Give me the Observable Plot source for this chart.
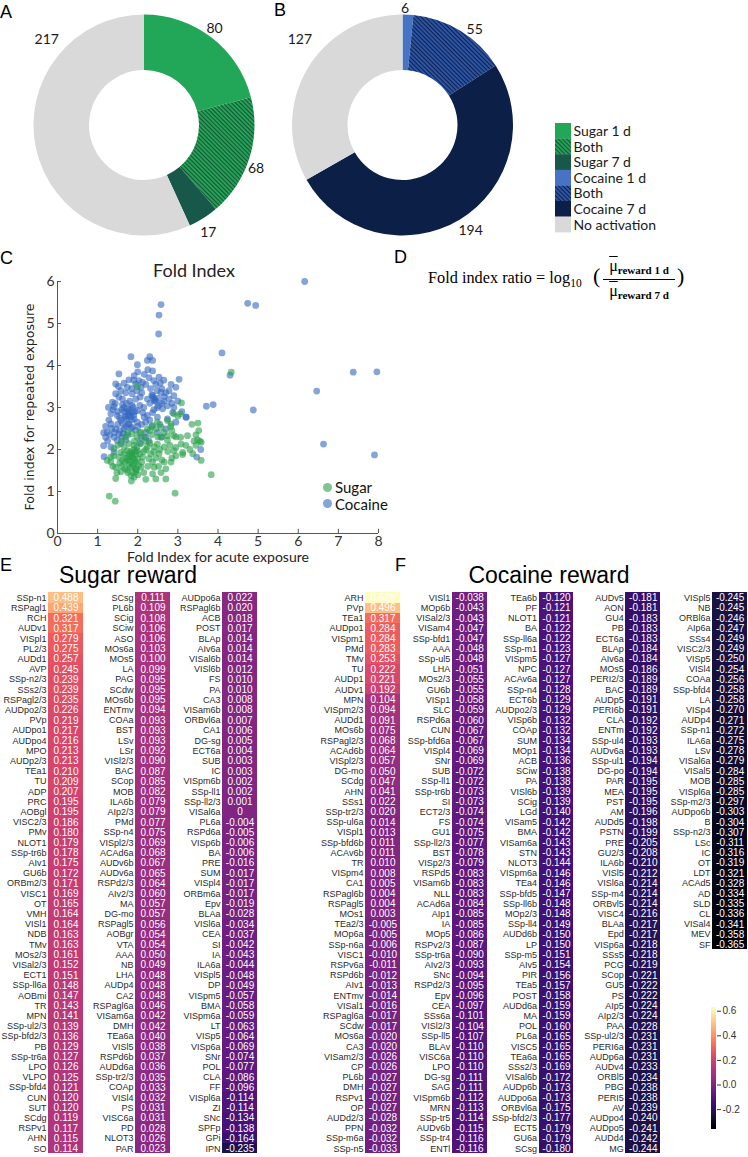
<!DOCTYPE html>
<html><head><meta charset="utf-8">
<script src="https://cdn.jsdelivr.net/npm/d3@7"></script>
<script src="https://cdn.jsdelivr.net/npm/@observablehq/plot@0.6"></script>
<style>
body{margin:0;background:#fff;}
#root{position:relative;width:748px;height:1157px;overflow:hidden;background:#fff;font-family:"Liberation Sans",Arial,sans-serif;}
.pl{position:absolute;font:18px/1 "Liberation Sans",Arial,sans-serif;color:#000;}
.ser{font-family:"Liberation Serif",serif;line-height:1;white-space:nowrap;position:absolute;}
.mu{text-decoration:overline;}
</style></head><body><div id="root"></div>
<script>
// ---------- DATA ----------
const sugarDonutCats = ["Sugar 1 d", "Both", "Sugar 7 d", "No activation"];
const sugarDonutVals = [80, 68, 17, 217];
const cocaineDonutCats = ["Cocaine 1 d", "Both", "Cocaine 7 d", "No activation"];
const cocaineDonutVals = [6, 55, 194, 127];
const legendLabels = ["Sugar 1 d", "Both", "Sugar 7 d", "Cocaine 1 d", "Both", "Cocaine 7 d", "No activation"];

const xTicks = [0, 1, 2, 3, 4, 5, 6, 7, 8];
const yTicks = [0, 1, 2, 3, 4, 5, 6];
const colorbarTicks = [-0.2, 0, 0.2, 0.4, 0.6];

const cocainePoints = [
[6.16,6.0],[4.74,5.48],[4.94,5.43],[2.58,5.45],[2.53,5.2],[2.52,4.75],[4.1,4.3],[4.3,3.77],[7.37,3.84],[7.96,3.85],[6.46,3.39],[4.88,2.94],[6.63,2.13],[7.9,1.87],[3.71,3.03],[3.88,3.07],[3.21,2.77],[1.83,4.21],[1.99,4.02],[2.3,4.21],[2.37,4.12],[2.24,4.12],[3.03,3.67],[3.57,2.0],[3.47,1.82],[1.15,2.09],[1.16,1.83],
[1.78,3.66],[1.91,3.76],[2.16,3.79],[2.28,3.71],[2.4,3.64],[2.56,3.58],[2.83,3.55],[2.95,3.48],[2.58,3.36],[2.66,3.26],[2.78,3.2],[2.9,3.28],[2.37,3.28],[2.24,3.2],[2.41,3.16],[2.08,3.48],[1.95,3.56],[1.74,3.48],[1.86,3.33],[2.06,3.25],[1.45,3.33],[1.53,3.25],[1.37,3.13],[1.62,3.07],[1.41,3.02],[1.74,2.97],[1.86,3.05],[1.99,2.93],[1.66,2.9],[1.78,2.81],[1.86,2.88],[1.7,2.77],[1.91,2.73],[1.58,2.69],[1.49,2.81],[1.33,2.85],[1.33,2.61],[1.45,2.49],[1.24,2.41],[1.2,2.29],[1.41,2.29],[1.53,2.37],[1.66,2.49],[1.78,2.61],[1.86,2.53],[1.99,2.65],[2.16,2.77],[2.12,2.88],[2.24,2.81],[2.37,2.88],[2.49,3.0],[2.62,2.97],[2.74,3.04],[2.87,2.88],[2.49,2.77],[2.74,2.73],[2.9,3.0],[3.2,2.77],[1.33,2.06],[1.41,1.94],[1.58,2.14],[1.7,2.22],[1.49,2.22],[2.2,2.29],[2.49,2.41],[2.7,2.49],[2.2,2.41],[2.08,2.29],[1.95,2.45],
[1.45,3.56],[1.58,3.4],[2.53,3.72],[2.37,3.87],[2.03,3.64],[1.53,3.8],
[1.78,2.85],[1.82,2.78],[1.75,2.9],[1.85,2.7],[1.8,2.95],[1.72,2.72],[1.9,2.82],[1.68,2.8],[2.42,3.2],[2.38,3.24],[2.45,3.15],[2.35,3.3],[2.5,3.22],[2.3,3.1],
[1.62,3.2],[1.7,3.35],[2.15,3.0],[2.6,3.1],[1.95,3.2],[2.1,3.35],[1.3,2.35],[1.5,2.6],[1.6,2.95],[2.05,3.05],
[1.65,3.0],[1.72,3.1],[1.8,3.15],[1.88,3.0],[1.93,2.9],[1.76,2.6],[1.83,2.5],[1.7,2.55],[1.62,2.62],[1.55,2.75],[1.5,2.9],[1.44,3.1],[1.38,2.95],[1.28,2.7],[1.35,2.5],[1.25,2.2],[1.42,2.4],[1.56,2.45],[1.64,2.38],[2.0,2.55],[2.1,2.6],[2.2,2.65],[2.3,2.7],[2.4,2.95],[2.52,3.05],[2.65,3.15],[2.7,3.35],[2.48,3.4],[2.32,3.45],[2.2,3.55],[2.12,3.6],[1.98,3.4],[1.85,3.45],[1.9,3.65],[2.6,3.45],[2.78,3.4],[2.85,3.1],[3.0,3.15],[3.1,2.9],[2.95,2.65],[2.55,2.6],[2.35,2.55],[1.2,2.55],[1.15,2.4],[1.27,3.0],[1.52,3.5],[1.66,3.58],[2.45,3.55],[2.65,3.65],[2.0,3.85],[2.25,3.9],[1.6,2.3],[1.75,2.35],[2.05,2.15],[2.28,2.2],[2.6,2.3]
];
const sugarPoints = [
[4.33,3.84],[1.99,3.5],[3.09,3.11],[3.06,2.85],[3.5,2.63],[2.74,2.69],[2.83,2.61],[2.58,2.53],[2.45,2.49],[2.9,2.33],[3.07,2.29],[3.24,2.33],[3.45,2.35],[3.49,2.23],[3.58,2.17],[3.08,2.13],[2.74,2.22],[2.58,2.29],[2.49,2.13],[2.66,2.06],[2.9,1.97],[3.12,1.93],[3.12,1.88],[3.37,1.9],[3.58,1.74],[2.83,1.7],[2.66,1.7],[2.37,1.7],[2.41,1.58],[2.7,1.54],[2.37,1.42],[2.7,1.3],[2.2,1.29],[1.91,1.34],[1.84,1.25],[1.45,1.31],[3.83,1.4],[2.93,0.96],[1.29,0.89],[1.44,0.77],[1.33,1.7],[1.45,1.58],[1.58,1.47],[1.73,1.51],[1.83,1.38],[1.95,1.47],[2.08,1.58],[1.53,1.82],[1.66,1.9],[1.78,1.82],[1.86,1.9],[1.99,1.97],[1.91,2.1],[1.78,2.14],[2.08,2.14],[2.16,2.29],[2.24,2.06],[2.32,1.9],[2.12,1.82],[1.95,1.7],[1.78,1.66],[1.68,1.7],[1.62,1.74],[1.82,1.58],[1.95,1.54],[1.74,1.97],[1.66,2.06],[1.99,2.29],[1.86,2.37],[1.74,2.41],[2.08,2.41],[2.24,2.49],[2.37,2.57],[2.49,2.65],[2.9,2.85],[2.74,2.33],[2.41,2.06],[2.53,1.9],[2.95,1.85],[1.41,2.02],[1.33,1.82],[1.24,1.74],[1.58,1.93],
[1.88,1.8],[1.92,1.75],[1.85,1.85],[1.95,1.88],[1.9,1.65],[1.82,1.72],[2.0,1.78],[1.87,1.6],[1.93,1.95],[1.8,1.9],[2.02,1.62],[1.97,1.52],
[3.35,2.6],[3.0,2.8],[3.55,2.2],[2.85,2.45],
[1.7,1.8],[1.75,1.75],[1.82,1.95],[1.9,2.0],[1.98,2.05],[2.05,1.9],[2.1,1.7],[2.15,1.95],[2.2,2.0],[2.28,1.78],[2.3,2.15],[2.4,1.95],[2.45,1.8],[2.55,2.0],[2.6,1.75],[2.65,2.4],[2.5,2.3],[2.35,2.35],[2.2,2.2],[1.6,1.6],[1.55,1.68],[1.68,1.55],[1.75,1.45],[1.88,1.45],[2.0,1.4],[2.15,1.45],[2.25,1.6],[1.5,2.1],[1.6,2.2],[1.7,2.3],[1.92,2.2],[2.05,2.4],[2.3,2.45],[2.8,2.1],[2.95,2.05],[3.2,2.1],[3.3,2.0],[3.4,2.2],[3.45,2.1],[3.52,2.45],[2.85,1.8],[2.75,1.95],[1.4,1.85],[1.38,1.6],[1.48,1.45],[2.52,1.6],[2.58,1.45],[2.45,1.3],[2.82,2.55],[2.95,2.3]
];

const sugarLabels = [
"SSp-n1","RSPagl1","RCH","AUDv1","VISpl1","PL2/3","AUDd1","AVP","SSp-n2/3","SSs2/3","RSPagl2/3","AUDpo2/3","PVp","AUDpo1","AUDpo4","MPO","AUDp2/3","TEa1","TU","ADP","PRC","AOBgl","VISC2/3","PMv","NLOT1","SSp-tr6b","AIv1","GU6b","ORBm2/3","VISC1","OT","VMH","VISl1","NDB","TMv","MOs2/3","VISal2/3","ECT1","SSp-ll6a","AOBmi","TR","MPN","SSp-ul2/3","SSp-bfd2/3","PB","SSp-tr6a","LPO","VLPO","SSp-bfd4","CUN","SUT","SCdg","RSPv1","AHN","SO",
"SCsg","PL6b","SCig","SCiw","ASO","MOs6a","MOs5","LA","PAG","SCdw","MOs6b","ENTmv","COAa","BST","LSv","LSr","VISl2/3","BAC","SCop","MOB","ILA6b","AIp2/3","PMd","SSp-n4","VISpl2/3","ACAd6a","AUDv6b","AUDv6a","RSPd2/3","AIv2/3","MA","DG-mo","RSPagl5","AOBgr","VTA","AAA","NB","LHA","AUDp4","CA2","RSPagl6a","VISam6a","DMH","TEa6a","VISl5","RSPd6b","AUDd6a","SSp-tr2/3","COAp","VISl4","PS","VISC6a","PD","NLOT3","PAR",
"AUDpo6a","RSPagl6b","ACB","POST","BLAp","AIv6a","VISal6b","VISl6b","FS","PA","CA3","VISam6b","ORBvl6a","CA1","DG-sg","ECT6a","SUB","IC","VISpm6b","SSp-ll1","SSp-ll2/3","VISal6a","PL6a","RSPd6a","VISp6b","BA","PRE","SUM","VISpl4","ORBm6a","Epv","BLAa","VISl6a","CEA","SI","IA","ILA6a","VISpl5","DP","VISpm5","BMA","VISpm6a","LT","VISp5","VISp6a","SNr","POL","CLA","FF","VISpl6a","ZI","SNc","SPFp","GPi","IPN"
];
const sugarValues = [
0.488,0.439,0.321,0.317,0.279,0.275,0.257,0.245,0.239,0.239,0.235,0.226,0.219,0.217,0.216,0.213,0.213,0.210,0.209,0.207,0.195,0.195,0.186,0.180,0.179,0.178,0.175,0.172,0.171,0.169,0.165,0.164,0.164,0.163,0.163,0.161,0.152,0.151,0.148,0.147,0.143,0.141,0.139,0.136,0.129,0.127,0.126,0.125,0.121,0.120,0.120,0.119,0.117,0.115,0.114,
0.111,0.109,0.108,0.106,0.106,0.103,0.100,0.099,0.095,0.095,0.095,0.094,0.093,0.093,0.093,0.092,0.090,0.087,0.085,0.082,0.079,0.079,0.077,0.075,0.069,0.068,0.067,0.065,0.064,0.060,0.057,0.057,0.056,0.054,0.054,0.050,0.049,0.048,0.048,0.048,0.046,0.042,0.042,0.040,0.038,0.037,0.036,0.035,0.033,0.032,0.031,0.031,0.028,0.026,0.023,
0.022,0.020,0.018,0.017,0.014,0.014,0.014,0.012,0.010,0.010,0.008,0.008,0.007,0.006,0.005,0.004,0.003,0.003,0.002,0.002,0.001,0,-0.004,-0.005,-0.006,-0.006,-0.016,-0.017,-0.017,-0.017,-0.019,-0.028,-0.034,-0.037,-0.042,-0.043,-0.044,-0.048,-0.049,-0.057,-0.058,-0.059,-0.063,-0.064,-0.069,-0.074,-0.077,-0.086,-0.096,-0.114,-0.114,-0.134,-0.138,-0.164,-0.235
];

const cocaineLabels = [
"ARH","PVp","TEa1","AUDpo1","VISpm1","PMd","TMv","TU","AUDp1","AUDv1","MPN","VISpm2/3","AUDd1","MOs6b","RSPagl2/3","ACAd6b","VISpl2/3","DG-mo","SCdg","AHN","SSs1","SSp-tr2/3","SSp-ul6a","VISpl1","SSp-bfd6b","ACAv6b","TR","VISpm4","CA1","RSPagl6b","RSPagl5","MOs1","TEa2/3","MOp6a","SSp-n6a","VISC1","RSPv6a","RSPd6b","AIv1","ENTmv","VISal1","RSPagl6a","SCdw","MOs6a","CA3","VISam2/3","CP","PL6b","DMH","RSPv1","OP","AUDd2/3","PPN","SSp-m6a","SSp-n5",
"VISl1","MOp6b","VISal2/3","VISam4","SSp-bfd1","AAA","SSp-ul5","LHA","MOs2/3","GU6b","VISp1","SLC","RSPd6a","CUN","SSp-bfd6a","VISpl4","SNr","SUB","SSp-ll1","SSp-tr6b","SI","ECT2/3","FS","GU1","SSp-ll2/3","BST","VISp2/3","RSPd5","VISam6b","NLL","ACAd6a","AIp1","IA","MOp5","RSPv2/3","SSp-tr6a","AIv2/3","SNc","RSPd2/3","Epv","CEA","SSs6a","VISl2/3","SSp-ll5","BLAv","VISC6a","LPO","DG-sg","SAG","VISpm6b","MRN","SSp-tr5","AUDv6b","SSp-tr4","ENTl",
"TEa6b","PF","NLOT1","BA","SSp-ll6a","SSp-m1","VISpm5","NPC","ACAv6a","SSp-n4","ECT6b","AUDpo2/3","VISp6b","COAp","SUM","MOp1","ACB","SCiw","PA","VISl6b","SCig","LGd","VISam5","BMA","VISam6a","STN","NLOT3","VISpm6a","TEa4","SSp-bfd5","SSp-ll6b","MOp2/3","SSp-ll4","AUDd6b","LP","SSp-m5","AIv5","PIR","TEa5","POST","AUDd6a","MA","POL","PL6a","VISC5","TEa6a","SSs2/3","VISal6b","AUDp6b","AUDpo6a","ORBvl6a","SSp-bfd2/3","ECT5","GU6a","SCsg",
"AUDv5","AON","GU4","PB","ECT6a","BLAp","AIv6a","MOs5","PERI2/3","BAC","AUDp5","PERI6b","CLA","ENTm","SSp-ul4","AUDv6a","SSp-ul1","DG-po","PAR","MEA","PST","AM","AUDd5","PSTN","PRE","GU2/3","ILA6b","VISl5","VISl6a","SSp-m4","ORBvl5","VISC4","BLAa","Epd","VISp6a","SSs5","PCG","SCop","GU5","PS","AIp5","AIp2/3","PAA","SSp-ul2/3","PERI6a","AUDp6a","AUDv4","ORBl5","PBG","PERI5","AV","AUDpo4","AUDpo5","AUDd4","MG",
"VISpl5","NB","ORBl6a","AIp6a","SSs4","VISC2/3","VISp5","VISl4","COAa","SSp-bfd4","LA","VISp4","AUDp4","SSp-n1","ILA6a","LSv","VISal6a","VISal5","MOB","VISpl6a","SSp-m2/3","AUDpo6b","B","SSp-n2/3","LSc","IC","OT","LDT","ACAd5","AD","SLD","CL","VISal4","MEV","SF"
];
const cocaineValues = [
0.626,0.496,0.317,0.284,0.284,0.283,0.253,0.222,0.221,0.192,0.104,0.094,0.091,0.075,0.068,0.064,0.057,0.050,0.047,0.041,0.022,0.020,0.014,0.013,0.011,0.011,0.010,0.008,0.005,0.004,0.004,0.003,-0.005,-0.005,-0.006,-0.010,-0.011,-0.012,-0.013,-0.014,-0.016,-0.017,-0.017,-0.020,-0.020,-0.026,-0.026,-0.027,-0.027,-0.027,-0.027,-0.028,-0.032,-0.032,-0.033,
-0.038,-0.043,-0.043,-0.047,-0.047,-0.048,-0.048,-0.051,-0.055,-0.055,-0.058,-0.059,-0.060,-0.067,-0.067,-0.069,-0.069,-0.072,-0.072,-0.073,-0.073,-0.074,-0.074,-0.075,-0.077,-0.078,-0.079,-0.083,-0.083,-0.083,-0.084,-0.085,-0.085,-0.086,-0.087,-0.090,-0.093,-0.094,-0.095,-0.096,-0.097,-0.101,-0.104,-0.107,-0.110,-0.110,-0.110,-0.111,-0.111,-0.112,-0.113,-0.114,-0.115,-0.116,-0.116,
-0.120,-0.121,-0.121,-0.122,-0.122,-0.123,-0.127,-0.127,-0.127,-0.128,-0.129,-0.129,-0.132,-0.132,-0.134,-0.134,-0.136,-0.138,-0.138,-0.139,-0.139,-0.140,-0.142,-0.142,-0.143,-0.143,-0.144,-0.146,-0.146,-0.147,-0.148,-0.148,-0.149,-0.150,-0.150,-0.151,-0.154,-0.156,-0.157,-0.158,-0.159,-0.159,-0.160,-0.165,-0.165,-0.165,-0.169,-0.172,-0.173,-0.173,-0.175,-0.177,-0.179,-0.179,-0.180,
-0.181,-0.181,-0.183,-0.183,-0.183,-0.184,-0.184,-0.186,-0.189,-0.189,-0.191,-0.191,-0.192,-0.192,-0.193,-0.193,-0.194,-0.194,-0.195,-0.195,-0.195,-0.196,-0.198,-0.199,-0.205,-0.208,-0.210,-0.212,-0.214,-0.214,-0.214,-0.216,-0.217,-0.217,-0.218,-0.218,-0.219,-0.221,-0.222,-0.222,-0.224,-0.224,-0.228,-0.231,-0.231,-0.231,-0.233,-0.234,-0.238,-0.238,-0.239,-0.240,-0.241,-0.242,-0.244,
-0.245,-0.245,-0.246,-0.247,-0.249,-0.249,-0.250,-0.254,-0.256,-0.258,-0.258,-0.270,-0.271,-0.272,-0.275,-0.278,-0.279,-0.284,-0.285,-0.285,-0.297,-0.303,-0.304,-0.307,-0.311,-0.316,-0.319,-0.321,-0.328,-0.334,-0.335,-0.336,-0.341,-0.358,-0.365
];

// ---------- LAYOUT HELPERS ----------
const root = document.getElementById("root");
function place(node, left, top) {
  node.style.position = "absolute"; node.style.left = left + "px"; node.style.top = top + "px";
  root.appendChild(node); return node;
}
function div(html, left, top, css) {
  const d = document.createElement("div"); d.innerHTML = html; d.style.cssText = css || ""; return place(d, left, top);
}

const colorDomain = [d3.min(cocaineValues.concat(sugarValues)), d3.max(cocaineValues.concat(sugarValues))];
const colorOpts = {type: "linear", scheme: "magma", domain: colorDomain};

// ---------- DONUTS (A, B) + LEGEND ----------
function addHatch(defs, id, base, line) {
  const p = defs.append("pattern").attr("id", id).attr("patternUnits", "userSpaceOnUse")
    .attr("width", 3).attr("height", 3).attr("patternTransform", "rotate(45)");
  p.append("rect").attr("width", 3).attr("height", 3).attr("fill", base);
  p.append("line").attr("x1", 0).attr("x2", 3).attr("y1", 0.6).attr("y2", 0.6).attr("stroke", line).attr("stroke-width", 1.1);
}
const sugarFills = ["#22a657", "url(#hatchSugar)", "#17584a", "#d9d9d9"];
const cocaineFills = ["#4673c4", "url(#hatchCoc)", "#0c1f46", "#d9d9d9"];
const legendFills = [sugarFills[0], sugarFills[1], sugarFills[2], cocaineFills[0], cocaineFills[1], cocaineFills[2], "#d9d9d9"];

const defsMark = () => {
  const defs = d3.create("svg:defs");
  addHatch(defs, "hatchSugar", "#2ba45b", "#0c5430");
  addHatch(defs, "hatchCoc", "#2f58aa", "#0b1e48");
  return defs.node();
};
function donutMark(vals, fills, cx, cy, labelAngles, labelRadii) {
  return () => {
    const g = d3.create("svg:g").attr("transform", `translate(${cx},${cy})`);
    const arcs = d3.pie().sort(null).value(d => d)(vals);
    const arc = d3.arc().innerRadius(55).outerRadius(110.5);
    g.selectAll("path").data(arcs).join("path").attr("d", arc).attr("fill", (d, i) => fills[i]);
    g.selectAll("text").data(arcs).join("text")
      .attr("x", (d, i) => Math.sin(labelAngles[i] * Math.PI / 180) * labelRadii[i])
      .attr("y", (d, i) => -Math.cos(labelAngles[i] * Math.PI / 180) * labelRadii[i])
      .attr("text-anchor", "middle").attr("dy", "0.35em").attr("fill", "#1a1a1a")
      .text(d => d.data);
    return g.node();
  };
}
const legendMark = () => {
  const g = d3.create("svg:g").attr("text-anchor", "start");
  legendLabels.forEach((t, i) => {
    g.append("rect").attr("x", 555).attr("y", 123 + i * 15.6).attr("width", 16).attr("height", 15.8).attr("fill", legendFills[i]);
    g.append("text").attr("x", 573.5).attr("y", 123 + i * 15.6 + 8).attr("dy", "0.35em")
      .attr("text-anchor", "start").attr("fill", "#1a1a1a").text(t);
  });
  return g.node();
};
const donuts = Plot.plot({
  width: 748, height: 250, margin: 0,
  style: {background: "transparent", fontFamily: "Lato, sans-serif", fontSize: "14px"},
  marks: [
    defsMark,
    donutMark(sugarDonutVals, sugarFills, 144, 125, [36, 111, 149, 311.6], [120, 120, 125, 130]),
    donutMark(cocaineDonutVals, cocaineFills, 402.5, 125, [1.2, 37, 147, 310], [117, 120, 125, 134]),
    legendMark
  ]
});
place(donuts, 0, 0);

// ---------- SCATTER (C) ----------
const scatter = Plot.plot({
  width: 400, height: 320, marginLeft: 57, marginRight: 22, marginTop: 26, marginBottom: 42,
  style: {background: "transparent", fontFamily: "Lato, sans-serif", fontSize: "14px", color: "#333"},
  x: {domain: [0, 8], ticks: xTicks, tickSize: 0, tickPadding: 3, label: null, tickFormat: d => String(d)},
  y: {domain: [0, 6], ticks: yTicks, tickSize: 0, tickPadding: 3, label: null, tickFormat: d => String(d)},
  marks: [
    Plot.ruleY([0], {x1: 0, x2: 8, stroke: "#555"}),
    Plot.ruleX([0], {y1: 0, y2: 6, stroke: "#555"}),
    Plot.ruleX(xTicks, {y1: 0, y2: 0.1, stroke: "#555"}),
    Plot.ruleY(yTicks, {x1: 0, x2: 0.1, stroke: "#555"}),
    Plot.dot(cocainePoints, {x: d => d[0], y: d => d[1], r: 3.4, fill: "#3468c0", fillOpacity: 0.6}),
    Plot.dot(sugarPoints, {x: d => d[0], y: d => d[1], r: 3.4, fill: "#27a04a", fillOpacity: 0.6})
  ]
});
place(scatter, 0, 255);
div("Fold Index", 94, 259, "width:200px;text-align:center;font:18px/22px Lato,sans-serif;color:#222;");
div("Fold index for repeated exposure", -100, 399, "width:260px;text-align:center;font:12.5px/16px 'DejaVu Sans',sans-serif;color:#222;transform:rotate(-90deg);transform-origin:50% 50%;");
div("Fold Index for acute exposure", 68, 550, "width:300px;text-align:center;font:14px/14px Lato,sans-serif;color:#222;");
div(`<div style="display:flex;align-items:center;height:16.5px"><span style="display:inline-block;width:9px;height:9px;border-radius:50%;background:#7dc692;margin-right:3px"></span>Sugar</div>
<div style="display:flex;align-items:center;height:16.5px"><span style="display:inline-block;width:9px;height:9px;border-radius:50%;background:#85a4d9;margin-right:3px"></span>Cocaine</div>`,
  323, 479, "font:15px Lato,sans-serif;color:#111;");

// ---------- FORMULA (D) ----------
div(`Fold index ratio = log<span style="font-size:11.5px;position:relative;top:4px;">10</span>`, 428, 270, "font-size:16.3px;");
root.lastChild.className = "ser";
div("(", 593, 265, "font-size:22px;"); root.lastChild.className = "ser";
div(`<span class="mu">μ</span><span style="font-size:11px;font-weight:bold;position:relative;top:3px;">reward 1 d</span>`, 600, 258, "font-size:16px;width:78px;text-align:center;");
root.lastChild.className = "ser";
div("", 603, 279, "width:72px;height:0;border-top:1px solid #000;");
div(`<span class="mu">μ</span><span style="font-size:11px;font-weight:bold;position:relative;top:3px;">reward 7 d</span>`, 600, 283, "font-size:16px;width:78px;text-align:center;");
root.lastChild.className = "ser";
div(")", 677, 265, "font-size:22px;"); root.lastChild.className = "ser";

// ---------- TABLES (E, F) ----------
const fmt = v => v === 0 ? "0" : v.toFixed(3);
function tableRows(labels, values) {
  return labels.map((label, i) => ({label, value: values[i], col: Math.floor(i / 55), row: i % 55}));
}
function tablePlot(rows, nCols, width, marginLeft, marginRight) {
  return Plot.plot({
    width, height: 572, marginLeft, marginRight, marginTop: 7.4, marginBottom: 3.6,
    style: {background: "transparent", fontFamily: "'Liberation Sans', Arial, sans-serif"},
    x: {type: "band", domain: d3.range(nCols), paddingInner: 0.598, paddingOuter: 0, align: 0.5, axis: null, round: false},
    y: {type: "band", domain: d3.range(55), padding: 0, axis: null, round: false},
    color: colorOpts,
    marks: [
      Plot.cell(rows, {x: "col", y: "row", fill: "value", inset: 0, shapeRendering: "crispEdges"}),
      Plot.text(rows, {x: "col", y: "row", text: "label", textAnchor: "end", dx: -19.5, fontSize: 9, fill: "#2a2a2a"}),
      Plot.text(rows, {x: "col", y: "row", text: d => fmt(d.value), fill: "white", fontSize: 10})
    ]
  });
}
place(tablePlot(tableRows(sugarLabels, sugarValues), 3, 260, 48, 3), 0, 585);
place(tablePlot(tableRows(cocaineLabels, cocaineValues), 5, 488, 105, 1), 260, 585);

div("Sugar reward", 0, 563.5, "width:256px;text-align:center;font:23px/1 'Liberation Sans',Arial,sans-serif;color:#000;");
div("Cocaine reward", 449, 563.5, "width:200px;text-align:center;font:23px/1 'Liberation Sans',Arial,sans-serif;color:#000;");

// ---------- COLORBAR ----------
const cbStep = (colorDomain[1] - colorDomain[0]) / 120;
const cbSteps = d3.range(120).map(i => colorDomain[0] + i * cbStep);
const colorbar = Plot.plot({
  width: 58, height: 140, marginLeft: 21, marginRight: 32, marginTop: 7.5, marginBottom: 10.6,
  style: {background: "transparent", fontFamily: "'Liberation Sans', Arial, sans-serif", fontSize: "10px", color: "#333"},
  x: {domain: [0, 1], axis: null},
  y: {domain: colorDomain, axis: "right", ticks: colorbarTicks, tickFormat: d => d.toFixed(1), tickSize: 4, tickPadding: 2, label: null},
  color: colorOpts,
  marks: [
    Plot.rect(cbSteps, {x1: 0, x2: 1, y1: d => d, y2: d => d + cbStep * 1.05, fill: d => d + cbStep / 2, shapeRendering: "crispEdges"})
  ]
});
place(colorbar, 690, 1000);

// ---------- PANEL LETTERS ----------
[["A", 0, 3], ["B", 274, 1], ["C", 0, 249], ["D", 394, 248], ["E", 0, 556], ["F", 395, 556]].forEach(([t, l, tp]) => {
  const d = div(t, l, tp); d.className = "pl";
});
</script></body></html>
